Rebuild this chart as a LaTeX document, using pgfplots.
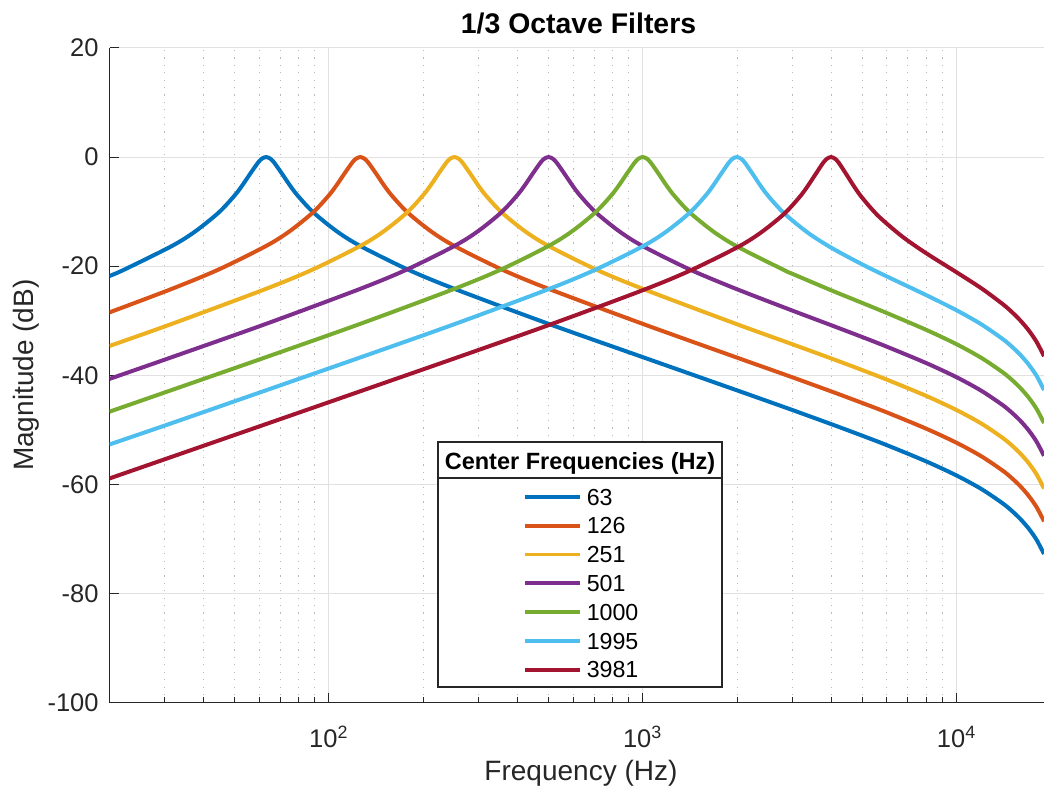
\documentclass[border=0pt]{standalone}
\usepackage{pgfplots}
\pgfplotsset{compat=1.18}
\usepackage{fontspec}
\setmainfont{Liberation Sans}
\definecolor{c1}{rgb}{0,0.447,0.741}
\definecolor{c2}{rgb}{0.85,0.325,0.098}
\definecolor{c3}{rgb}{0.929,0.694,0.125}
\definecolor{c4}{rgb}{0.494,0.184,0.556}
\definecolor{c5}{rgb}{0.466,0.674,0.188}
\definecolor{c6}{rgb}{0.301,0.745,0.933}
\definecolor{c7}{rgb}{0.635,0.078,0.184}
\definecolor{axgray}{rgb}{0.15,0.15,0.15}
\definecolor{gridgray}{RGB}{225,225,225}
\definecolor{minorgray}{RGB}{185,185,185}
\begin{document}
\begin{tikzpicture}
\useasboundingbox (-54.75pt,-42.25pt) rectangle (467.25pt,351.25pt);
\begin{axis}[
  at={(0pt,0pt)}, anchor=south west,
  scale only axis, width=467.25pt, height=327.25pt,
  xmode=log, xmin=20, xmax=19000, ymin=-100, ymax=20,
  enlargelimits=false,
  axis x line*=bottom, axis y line*=left,
  axis line style={axgray, line width=0.55pt},
  xtick={100,1000,10000},
  xticklabels={10\textsuperscript{2},10\textsuperscript{3},10\textsuperscript{4}},
  minor xtick={30,40,50,60,70,80,90,200,300,400,500,600,700,800,900,2000,3000,4000,5000,6000,7000,8000,9000},
  ytick={-100,-80,-60,-40,-20,0,20},
  yticklabels={-100,-80,-60,-40,-20,0,20},
  xmajorgrids, ymajorgrids, xminorgrids,
  major grid style={gridgray, line width=0.5pt},
  minor grid style={minorgray, line width=0.5pt, dash pattern=on 0.6pt off 3.1pt},
  tick align=inside, major tick length=4.7pt, minor tick length=2.8pt,
  tick style={axgray, line width=0.5pt},
  tick label style={color=axgray, font=\fontsize{12.75}{15}\selectfont},
  xticklabel style={anchor=base, yshift=-22.25pt},
  yticklabel style={anchor=east, inner sep=0pt, xshift=-5.25pt},
  title={1/3 Octave Filters},
  every axis title/.style={at={(axis description cs:0.5019,1.02139)}, anchor=base, inner sep=0pt, font=\fontsize{14.2}{17}\selectfont\bfseries, color=black},
  xlabel={Frequency (Hz)},
  xlabel style={at={(axis description cs:0.5045,-0.11994)}, anchor=base, font=\fontsize{14}{17}\selectfont, color=axgray},
  ylabel={Magnitude (dB)},
  ylabel style={at={(axis description cs:-0.08186,0.5)}, anchor=base, rotate=0, font=\fontsize{14}{17}\selectfont, color=axgray},
  legend style={draw=none, fill=none, inner sep=0pt, outer sep=0pt,
    at={(axis description cs:0.44248,0.33598)}, anchor=north west,
    font=\fontsize{11.6}{13}\selectfont, row sep=0pt,
    nodes={inner sep=0pt, minimum height=14.4pt, text depth=0pt, text=black},
    /tikz/every odd column/.style={column sep=2.5pt}},
  legend cell align=left,
  legend image code/.code={\draw[#1, line width=1.9pt] (0pt,0pt) -- (27.5pt,0pt);},
  every axis plot/.append style={line width=2pt, smooth, line join=round},
]
\addplot[c1] coordinates {
(20,-21.80) (22.31,-20.62) (31.548,-16.33) (37.517,-13.63) (44.616,-10.14) (50.080,-7.04) (53.058,-5.14) (56.213,-3.01) (59.555,-0.97) (61.300,-0.26) (63.096,0) (64.945,-0.26) (66.848,-0.97) (70.823,-3.01) (75.035,-5.14) (79.496,-7.04) (89.232,-10.14) (106.11,-13.63) (126.19,-16.33) (178.46,-20.62) (252.38,-24.20) (504.77,-30.64) (1009.5,-36.76) (2000,-42.78) (3000,-46.38) (4000,-48.99) (5000,-51.07) (6000,-52.82) (8000,-55.79) (10000,-58.38) (12000,-60.86) (14000,-63.45) (15000,-64.86) (16000,-66.40) (17000,-68.15) (18000,-70.20) (19000,-72.77)
};
\addlegendentry{63}
\addplot[c2] coordinates {
(20,-28.47) (31.473,-24.20) (44.508,-20.62) (62.945,-16.33) (74.854,-13.63) (89.018,-10.14) (99.919,-7.04) (105.86,-5.14) (112.16,-3.01) (118.82,-0.97) (122.31,-0.26) (125.89,0) (129.58,-0.26) (133.38,-0.97) (141.31,-3.01) (149.71,-5.14) (158.61,-7.04) (178.04,-10.14) (211.72,-13.63) (251.78,-16.33) (356.07,-20.62) (503.56,-24.20) (1007.1,-30.64) (2000,-36.78) (3000,-40.38) (4000,-42.99) (5000,-45.07) (6000,-46.82) (8000,-49.79) (10000,-52.38) (12000,-54.86) (14000,-57.45) (15000,-58.86) (16000,-60.40) (17000,-62.15) (18000,-64.20) (19000,-66.77)
};
\addlegendentry{126}
\addplot[c3] coordinates {
(20,-34.63) (31.399,-30.64) (62.798,-24.20) (88.808,-20.62) (125.60,-16.33) (149.36,-13.63) (177.62,-10.14) (199.37,-7.04) (211.23,-5.14) (223.78,-3.01) (237.09,-0.97) (244.04,-0.26) (251.19,0) (258.55,-0.26) (266.13,-0.97) (281.95,-3.01) (298.72,-5.14) (316.48,-7.04) (355.23,-10.14) (422.45,-13.63) (502.38,-16.33) (710.47,-20.62) (1004.8,-24.20) (2000,-30.66) (3000,-34.32) (4000,-36.95) (5000,-39.04) (6000,-40.81) (8000,-43.78) (10000,-46.38) (12000,-48.86) (14000,-51.45) (15000,-52.86) (16000,-54.40) (17000,-56.15) (18000,-58.20) (19000,-60.77)
};
\addlegendentry{251}
\addplot[c4] coordinates {
(20,-40.67) (31.324,-36.76) (62.649,-30.64) (125.30,-24.20) (177.20,-20.62) (250.60,-16.33) (298.01,-13.63) (354.40,-10.14) (397.79,-7.04) (421.45,-5.14) (446.51,-3.01) (473.06,-0.97) (486.92,-0.26) (501.19,0) (515.87,-0.26) (531.0,-0.97) (562.57,-3.01) (596.02,-5.14) (631.46,-7.04) (708.79,-10.14) (842.90,-13.63) (1002.4,-16.35) (1417.6,-20.65) (2000,-24.24) (3000,-28.15) (4000,-30.86) (5000,-32.98) (6000,-34.77) (8000,-37.76) (10000,-40.36) (12000,-42.85) (14000,-45.44) (15000,-46.85) (16000,-48.39) (17000,-50.14) (18000,-52.20) (19000,-54.77)
};
\addlegendentry{501}
\addplot[c5] coordinates {
(20,-46.68) (31.25,-42.80) (62.5,-36.76) (125,-30.64) (250,-24.20) (353.55,-20.62) (500,-16.33) (594.60,-13.63) (707.11,-10.13) (793.70,-7.04) (840.90,-5.14) (890.90,-3.01) (943.87,-0.97) (971.53,-0.26) (1000,0) (1029.3,-0.26) (1059.5,-0.97) (1122.5,-3.02) (1189.2,-5.16) (1259.9,-7.07) (1414.2,-10.18) (1681.8,-13.68) (2000,-16.40) (2828.4,-20.75) (3000,-21.41) (4000,-24.46) (5000,-26.73) (6000,-28.60) (8000,-31.67) (10000,-34.31) (12000,-36.82) (14000,-39.42) (15000,-40.83) (16000,-42.38) (17000,-44.13) (18000,-46.19) (19000,-48.76)
};
\addlegendentry{1000}
\addplot[c6] coordinates {
(20,-52.69) (31.177,-48.89) (62.353,-42.86) (124.71,-36.82) (249.41,-30.70) (498.83,-24.26) (705.45,-20.67) (997.65,-16.40) (1186.4,-13.70) (1410.9,-10.22) (1583.7,-7.11) (1677.9,-5.20) (1777.6,-3.06) (1883.3,-0.99) (1938.5,-0.26) (1995.3,0) (2053.8,-0.27) (2113.9,-0.99) (2239.7,-3.08) (2372.9,-5.24) (2514.0,-7.16) (2821.8,-10.30) (3355.7,-13.85) (4000,-16.66) (5000,-19.66) (6000,-21.89) (8000,-25.30) (10000,-28.09) (12000,-30.67) (14000,-33.32) (15000,-34.75) (16000,-36.31) (17000,-38.07) (18000,-40.13) (19000,-42.71)
};
\addlegendentry{1995}
\addplot[c7] coordinates {
(20,-58.92) (31.10,-55.09) (62.205,-49.07) (124.41,-43.04) (248.82,-37.00) (497.64,-30.88) (995.28,-24.46) (1407.6,-20.88) (1990.6,-16.62) (2367.2,-13.94) (2815.0,-10.47) (3159.8,-7.34) (3347.6,-5.41) (3546.7,-3.23) (3757.6,-1.06) (3867.8,-0.29) (3981.1,0) (4097.7,-0.29) (4217.8,-1.07) (4468.6,-3.28) (4734.4,-5.54) (5015.9,-7.53) (5630.1,-10.79) (6695.4,-14.51) (8000,-17.62) (10000,-21.12) (12000,-24.06) (14000,-26.91) (15000,-28.40) (16000,-30.01) (17000,-31.81) (18000,-33.90) (19000,-36.50)
};
\addlegendentry{3981}
\draw[fill=white, draw=axgray, line width=0.6pt] (rel axis cs:0.35152,0.02368) rectangle (rel axis cs:0.65543,0.39801);
\draw[axgray, line width=0.6pt] (rel axis cs:0.35152,0.34301) -- (rel axis cs:0.65543,0.34301);
\node[anchor=base, inner sep=0pt, font=\fontsize{11.75}{14}\selectfont\bfseries, text=black] at (rel axis cs:0.50348,0.35631) {Center Frequencies (Hz)};
\end{axis}
\end{tikzpicture}
\end{document}
